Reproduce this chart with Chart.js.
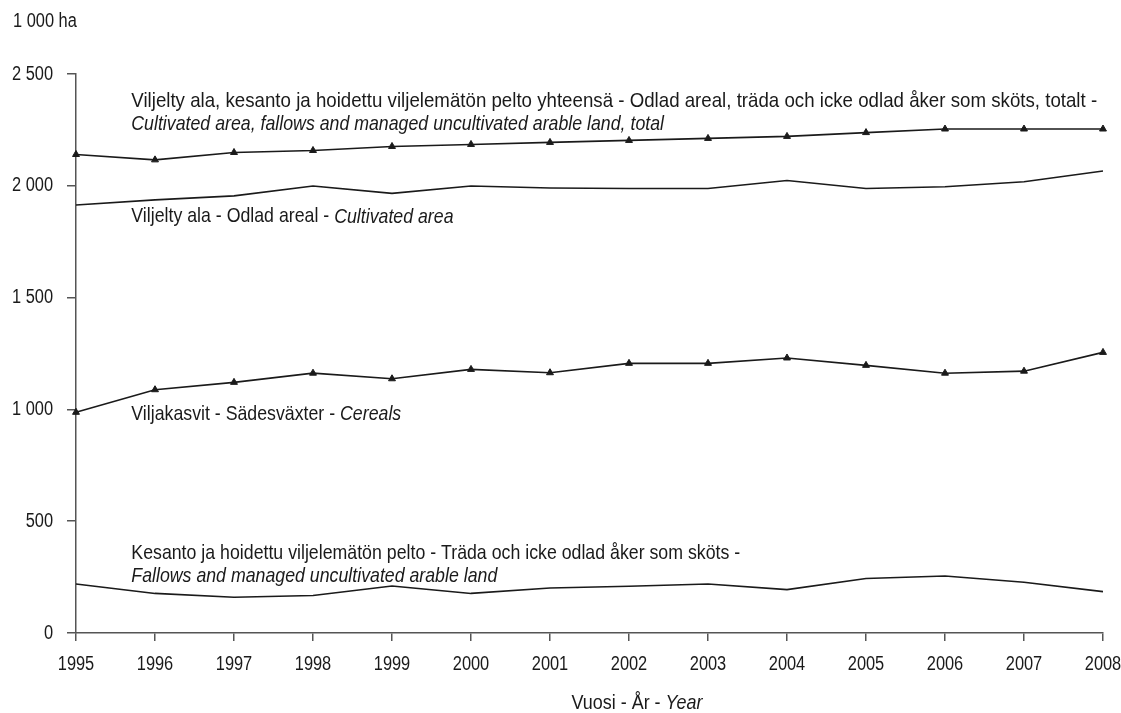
<!DOCTYPE html>
<html>
<head>
<meta charset="utf-8">
<script src="https://cdn.jsdelivr.net/npm/chart.js@4.4.0/dist/chart.umd.min.js"></script>
<style>
  html, body { margin: 0; padding: 0; background: #fff; }
  #wrap { width: 1121px; height: 713px; position: relative; }
</style>
</head>
<body>
<div id="wrap"><canvas id="chart"></canvas></div>
<script>
// Years on the x axis
var years = ['1995', '1996', '1997', '1998', '1999', '2000', '2001',
             '2002', '2003', '2004', '2005', '2006', '2007', '2008'];

// 1 000 ha
var totalArea = [2140, 2116, 2149, 2158, 2176, 2185, 2194, 2203, 2212, 2221, 2238, 2254, 2254, 2254];
var cultivatedArea = [1914, 1937, 1955, 1999, 1966, 1999, 1990, 1988, 1988, 2024, 1988, 1996, 2018, 2066];
var cereals = [987, 1088, 1121, 1162, 1137, 1179, 1164, 1206, 1206, 1230, 1197, 1162, 1171, 1255];
var fallows = [219, 177, 160, 168, 210, 177, 201, 209, 219, 194, 244, 255, 227, 185];

var yTicks = [0, 500, 1000, 1500, 2000, 2500];

// series label texts, [text, italic] segments per line
var labelLines = [
    [['Viljelty ala, kesanto ja hoidettu viljelemätön pelto yhteensä - Odlad areal, träda och icke odlad åker som sköts, totalt -', false]],
    [['Cultivated area, fallows and managed uncultivated arable land, total', true]],
    [['Viljelty ala - Odlad areal - ', false], ['Cultivated area', true]],
    [['Viljakasvit - Sädesväxter - ', false], ['Cereals', true]],
    [['Kesanto ja hoidettu viljelemätön pelto - Träda och icke odlad åker som sköts -', false]],
    [['Fallows and managed uncultivated arable land', true]]
];
var axisTitle = [['Vuosi - År - ', false], ['Year', true]];
var unitLabel = '1 000 ha';

var FONT = "'Liberation Sans', Arial, sans-serif";
var TICK = { size: 20, squeeze: 0.82 };    // axis numbers
var NOTE = { size: 21, squeeze: 0.845 };   // series labels
var WIDE = { size: 21, squeeze: 0.89 };    // first, looser line
var TITLE = { size: 21, squeeze: 0.855 };
var INK = '#1a1a1a';

// where each label line sits: x as category index, y as axis value
var anchors = [
    [0.7, 2379, WIDE], [0.7, 2275, NOTE], [0.7, 1862, NOTE],
    [0.7, 978, NOTE], [0.7, 358, NOTE], [0.7, 252, NOTE]
];

function fmt(v) {
    if (v < 1000) return String(v);
    return Math.floor(v / 1000) + ' ' + String(v % 1000).padStart(3, '0');
}

// draws narrow text, returns its width
function narrow(ctx, st, text, x, y, align, italic) {
    ctx.save();
    ctx.font = (italic ? 'italic ' : '') + st.size + 'px ' + FONT;
    var w = ctx.measureText(text).width * st.squeeze;
    var x0 = align === 'right' ? x - w : (align === 'center' ? x - w / 2 : x);
    ctx.translate(x0, y);
    ctx.scale(st.squeeze, 1);
    ctx.textAlign = 'left';
    ctx.textBaseline = 'middle';
    ctx.fillStyle = INK;
    ctx.fillText(text, 0, 0);
    ctx.restore();
    return w;
}

function segWidth(ctx, st, segs) {
    var w = 0;
    segs.forEach(function(s) {
        ctx.font = (s[1] ? 'italic ' : '') + st.size + 'px ' + FONT;
        w += ctx.measureText(s[0]).width * st.squeeze;
    });
    return w;
}

var textPlugin = {
    id: 'texts',
    afterDraw: function(chart) {
        var ctx = chart.ctx;
        var xs = chart.scales.x, ys = chart.scales.y;

        narrow(ctx, TICK, unitLabel, 13, 21, 'left', false);

        // tick labels
        yTicks.forEach(function(v) {
            narrow(ctx, TICK, fmt(v), 53, ys.getPixelForValue(v), 'right', false);
        });
        years.forEach(function(y, i) {
            narrow(ctx, TICK, y, xs.getPixelForValue(i), 664, 'center', false);
        });

        labelLines.forEach(function(line, k) {
            var a = anchors[k];
            var x = xs.getPixelForValue(a[0]);
            var y = ys.getPixelForValue(a[1]);
            line.forEach(function(seg) {
                x += narrow(ctx, a[2], seg[0], x, y, 'left', seg[1]);
            });
        });

        var tx = 637 - segWidth(ctx, TITLE, axisTitle) / 2;
        axisTitle.forEach(function(p) {
            tx += narrow(ctx, TITLE, p[0], tx, 703, 'left', p[1]);
        });
    }
};

function lineSet(label, values, marker) {
    return {
        label: label,
        data: values,
        borderColor: INK,
        backgroundColor: INK,
        borderWidth: 1.6,
        tension: 0,
        pointStyle: 'triangle',
        pointRadius: marker ? 4 : 0,
        pointHoverRadius: marker ? 4 : 0,
        pointBorderWidth: 1
    };
}

new Chart(document.getElementById('chart'), {
    type: 'line',
    data: {
        labels: years,
        datasets: [
            lineSet('Total', totalArea, true),
            lineSet('Cultivated area', cultivatedArea, false),
            lineSet('Cereals', cereals, true),
            lineSet('Fallows', fallows, false)
        ]
    },
    options: {
        responsive: true,
        maintainAspectRatio: false,
        animation: false,
        layout: { padding: { top: 74, right: 18, bottom: 0, left: 0 } },
        plugins: {
            legend: { display: false },
            tooltip: { enabled: false }
        },
        scales: {
            x: {
                offset: false,
                afterFit: function(s) { s.height = 80; },
                grid: { drawOnChartArea: false, drawTicks: true, tickLength: 8, color: '#555', lineWidth: 1.5 },
                border: { display: true, color: '#555', width: 1.5 },
                ticks: { display: false, autoSkip: false }
            },
            y: {
                min: 0,
                max: 2500,
                afterFit: function(s) { s.width = 76; },
                afterBuildTicks: function(s) { s.ticks = yTicks.map(function(v) { return { value: v }; }); },
                grid: { drawOnChartArea: false, drawTicks: true, tickLength: 9, color: '#555', lineWidth: 1.5 },
                border: { display: true, color: '#555', width: 1.5 },
                ticks: { display: false }
            }
        }
    },
    plugins: [textPlugin]
});
</script>
</body>
</html>
